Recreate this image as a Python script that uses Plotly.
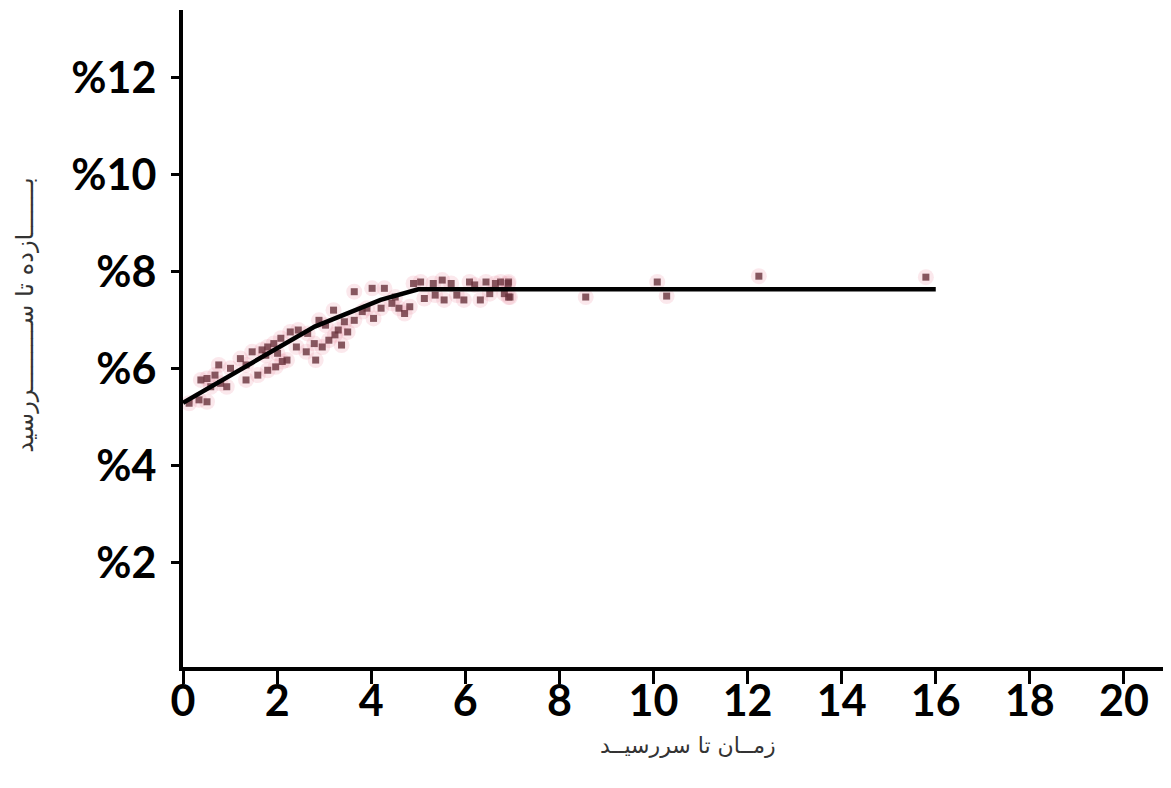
import plotly.graph_objects as go

# Fitted yield curve (maturity in years, yield in %)
curve_x = [0, 1.3, 2.8, 4.2, 5.0, 16]
curve_y = [5.3, 6.04, 6.87, 7.42, 7.64, 7.64]

# Observed bonds (maturity, yield)
bond_x = [0.13, 0.34, 0.51, 0.38, 0.51, 0.68, 0.80, 0.59, 0.93, 1.01, 0.76,
          1.22, 1.34, 1.47, 1.68, 1.80, 1.76, 1.93, 2.08, 1.34, 1.59, 1.80, 1.97, 2.11, 2.21, 2.01,
          2.28, 2.45, 2.65, 2.41, 2.62, 2.79, 2.82, 2.96, 3.10, 3.20, 3.23, 3.30, 3.37, 3.43, 2.89, 3.03,
          3.50, 3.64, 3.64, 3.81, 3.91, 4.02, 4.05, 4.21, 4.28, 4.44, 4.51, 4.59, 4.71, 4.82,
          4.90, 5.05, 5.13, 5.32, 5.36, 5.51, 5.55, 5.70, 5.82, 5.97, 6.09, 6.20, 6.32, 6.44, 6.52,
          6.64, 6.75, 6.83, 6.91, 6.95,
          6.92, 6.92, 8.56, 10.08, 10.28, 12.24, 15.79]
bond_y = [5.29, 5.36, 5.32, 5.77, 5.80, 5.87, 5.70, 5.63, 5.63, 6.01, 6.08,
          6.21, 6.08, 6.35, 6.39, 6.45, 6.28, 6.52, 6.63, 5.77, 5.87, 5.97, 6.04, 6.15, 6.18, 6.32,
          6.76, 6.80, 6.73, 6.45, 6.35, 6.52, 6.18, 6.45, 6.59, 7.21, 6.70, 6.80, 6.49, 6.97, 7.00, 6.90,
          6.76, 7.59, 7.00, 7.18, 7.25, 7.66, 7.04, 7.25, 7.66, 7.35, 7.48, 7.25, 7.14, 7.28,
          7.76, 7.79, 7.45, 7.76, 7.52, 7.83, 7.42, 7.76, 7.52, 7.42, 7.79, 7.73, 7.42, 7.79, 7.55,
          7.76, 7.79, 7.55, 7.76, 7.48,
          7.79, 7.48, 7.48, 7.79, 7.50, 7.91, 7.89]

x_ticks = [0, 2, 4, 6, 8, 10, 12, 14, 16, 18, 20]
y_ticks = [2, 4, 6, 8, 10, 12]
y_tick_text = ["%2", "%4", "%6", "%8", "%10", "%12"]

x_title = "زمــان تا سررسیــد"
y_title = "بـــــــازده تا ســـــــــررسید"

fig = go.Figure()
# pink halo under points
fig.add_trace(go.Scatter(x=bond_x, y=bond_y, mode="markers",
                         marker=dict(size=16, color="rgba(235,140,160,0.2)", line=dict(width=0)),
                         hoverinfo="skip", showlegend=False))
fig.add_trace(go.Scatter(x=bond_x, y=bond_y, mode="markers",
                         marker=dict(size=7, symbol="square", color="rgba(105,50,60,0.8)", line=dict(width=0)),
                         showlegend=False))
fig.add_trace(go.Scatter(x=curve_x, y=curve_y, mode="lines",
                         line=dict(color="black", width=4.5), showlegend=False))

tick_font = dict(family="Lato, Open Sans, sans-serif", size=43, color="black", weight="bold")

# page body has an 8px margin; figure is sized to fit the window
fig.update_layout(
    width=1163, height=780,
    margin=dict(l=175, r=0, t=2, b=121),
    paper_bgcolor="white", plot_bgcolor="white",
    xaxis=dict(range=[0, 21], tickvals=x_ticks, showgrid=False, zeroline=False,
               showline=True, linecolor="black", linewidth=4,
               ticks="outside", ticklen=13, tickwidth=3, tickcolor="black",
               tickfont=tick_font, ticklabelstandoff=-20),
    yaxis=dict(range=[-0.15, 13.4], tickvals=y_ticks, ticktext=y_tick_text,
               showgrid=False, zeroline=False,
               showline=True, linecolor="black", linewidth=4,
               ticks="outside", ticklen=8, tickwidth=3, tickcolor="black",
               tickfont=tick_font, ticklabelstandoff=6),
    annotations=[
        dict(text=x_title, xref="paper", yref="paper", x=0.511, y=-0.119,
             xanchor="center", yanchor="middle", showarrow=False,
             font=dict(family="DejaVu Sans", size=22, color="#333333")),
        dict(text=y_title, xref="paper", yref="paper", x=-0.16, y=0.536,
             xanchor="center", yanchor="middle", showarrow=False, textangle=-90,
             font=dict(family="DejaVu Sans", size=24, color="#333333")),
    ],
)

fig.write_html("out.html")
